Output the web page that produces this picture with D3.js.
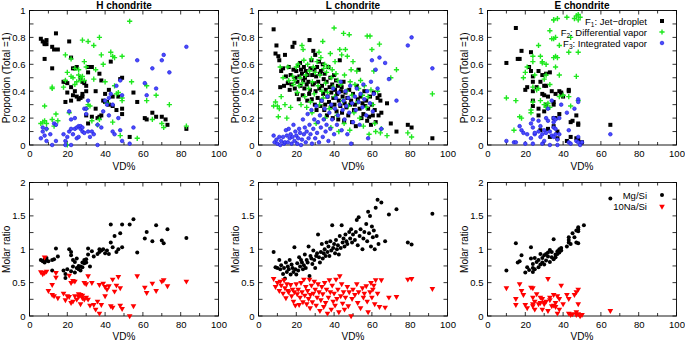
<!DOCTYPE html>
<html>
<head>
<meta charset="utf-8">
<script src="https://cdn.jsdelivr.net/npm/d3@7"></script>
<style>
  body { margin: 0; background: #fff; }
  text { font-family: "Liberation Sans", Arial, sans-serif; }
</style>
</head>
<body>
<div id="chart"></div>
<script>
// VD% versus proportions / molar ratios, three chondrite groups
var titles = ['H chondrite', 'L chondrite', 'E chondrite'];
var xTicks = [0, 20, 40, 60, 80, 100];
var topTicks = [0, 0.2, 0.4, 0.6, 0.8, 1];
var botTicks = [0, 0.5, 1, 1.5, 2];
var topLegend = ['Jet\u2212droplet', 'Differential vapor', 'Integrated vapor'];
var botLegend = ['Mg/Si', '10Na/Si'];

// H chondrite
var hF1 = [[6,0.79],[7,0.77],[8,0.75],[9,0.78],[8,0.76],[9,0.75],[8,0.64],[12,0.57],[12,0.73],[13,0.71],[14,0.83],[15,0.71],[21,0.77],[22,0.65],[23,0.57],[24,0.57],[25,0.58],[18,0.47],[19,0.47],[20,0.46],[20,0.39],[19,0.32],[22,0.43],[22,0.33],[23,0.37],[24,0.40],[25,0.36],[26,0.34],[27,0.35],[28,0.36],[28,0.38],[27,0.50],[28,0.47],[29,0.46],[30,0.44],[30,0.40],[31,0.58],[31,0.54],[30,0.22],[31,0.16],[33,0.58],[33,0.21],[35,0.40],[35,0.27],[36,0.20],[37,0.53],[38,0.48],[37,0.21],[38,0.22],[39,0.33],[40,0.32],[40,0.38],[41,0.32],[42,0.41],[42,0.30],[43,0.62],[44,0.29],[44,0.36],[46,0.26],[47,0.36],[48,0.49],[49,0.50],[49,0.27],[49,0.23],[53,0.06],[55,0.39],[57,0.32],[61,0.20],[62,0.19],[65,0.24],[67,0.21],[70,0.21],[72,0.19],[73,0.15],[83,0.12]];
var hF2 = [[6,0.16],[7,0.17],[8,0.18],[8,0.29],[9,0.16],[9,0.12],[12,0.43],[12,0.42],[12,0.19],[13,0.14],[14,0.23],[15,0.18],[18,0.43],[19,0.48],[19,0.67],[20,0.54],[20,0.00],[21,0.24],[22,0.64],[22,0.51],[23,0.50],[24,0.57],[24,0.45],[25,0.47],[26,0.56],[26,0.52],[27,0.48],[27,0.50],[28,0.78],[28,0.51],[29,0.48],[29,0.62],[30,0.58],[31,0.30],[31,0.77],[32,0.29],[33,0.18],[34,0.74],[34,0.49],[35,0.56],[37,0.80],[37,0.19],[38,0.67],[39,0.60],[40,0.47],[41,0.31],[43,0.69],[44,0.66],[45,0.65],[45,0.44],[46,0.38],[47,0.39],[48,0.07],[49,0.66],[49,0.35],[49,0.33],[53,0.92],[54,0.47],[57,0.05],[62,0.33],[62,0.44],[65,0.19],[67,0.37],[70,0.16],[71,0.13],[74,0.30],[83,0.14],[36,0.15],[44,0.17],[30,0.27]];
var hF3 = [[6,0.05],[7,0.13],[7,0.10],[8,0.07],[9,0.03],[9,0.12],[11,0.08],[12,0.00],[13,0.16],[14,0.15],[14,0.03],[18,0.08],[19,0.03],[19,0.00],[20,0.06],[21,0.25],[21,0.10],[22,0.12],[22,0.19],[22,0.00],[23,0.08],[24,0.12],[24,0.20],[25,0.13],[25,0.05],[26,0.14],[26,0.06],[27,0.14],[27,0.12],[28,0.13],[28,0.10],[29,0.09],[29,0.27],[30,0.27],[30,0.23],[31,0.33],[31,0.10],[32,0.06],[33,0.10],[34,0.08],[36,0.00],[36,0.15],[38,0.13],[39,0.25],[40,0.33],[41,0.30],[42,0.35],[42,0.22],[43,0.38],[44,0.30],[44,0.10],[45,0.08],[46,0.44],[47,0.20],[48,0.48],[48,0.11],[49,0.37],[49,0.03],[53,0.01],[55,0.13],[57,0.63],[61,0.46],[62,0.37],[65,0.57],[67,0.42],[70,0.63],[71,0.67],[74,0.54],[83,0.73]];
var hMg = [[6,0.84],[7,0.82],[8,0.80],[8,0.85],[9,0.83],[9,0.87],[10,0.82],[12,0.84],[12,0.68],[13,0.85],[14,1.01],[15,0.89],[18,0.68],[19,0.57],[19,0.63],[20,0.70],[21,1.00],[22,0.96],[22,0.91],[22,0.67],[23,0.84],[23,0.74],[24,0.81],[24,0.65],[25,0.86],[25,0.72],[26,0.75],[26,0.70],[27,0.74],[27,0.68],[28,0.80],[28,0.73],[29,0.84],[29,0.79],[30,0.85],[30,0.80],[31,1.01],[31,0.92],[32,0.74],[33,0.97],[34,0.89],[36,0.93],[37,1.00],[37,0.96],[38,0.98],[39,1.00],[40,0.94],[41,0.98],[42,0.93],[43,1.10],[43,1.37],[44,1.03],[45,1.20],[46,0.96],[47,1.00],[48,1.24],[49,1.37],[49,1.03],[53,1.37],[55,1.45],[57,0.95],[61,1.16],[62,1.26],[65,1.12],[67,1.36],[70,1.13],[71,1.09],[73,1.30],[83,1.17]];
var hNa = [[6,0.66],[7,0.63],[8,0.88],[8,0.65],[9,0.67],[10,0.38],[12,0.47],[12,0.32],[13,0.30],[14,0.65],[14,0.58],[15,0.27],[18,0.34],[19,0.24],[20,0.30],[21,0.61],[21,0.29],[22,0.50],[22,0.20],[23,0.53],[23,0.22],[24,0.52],[24,0.30],[25,0.25],[26,0.33],[26,0.29],[27,0.32],[27,0.18],[28,0.27],[28,0.31],[29,0.25],[29,0.50],[30,0.48],[30,0.28],[31,0.60],[31,0.25],[32,0.16],[33,0.50],[34,0.17],[35,0.10],[36,0.22],[37,0.47],[37,0.04],[38,0.17],[39,0.49],[40,0.44],[40,0.30],[41,0.40],[42,0.45],[43,0.15],[44,0.13],[44,0.55],[45,0.37],[46,0.46],[47,0.59],[48,0.16],[48,0.42],[49,0.11],[53,0.00],[55,0.15],[57,0.60],[61,0.43],[62,0.35],[65,0.49],[67,0.38],[70,0.52],[71,0.54],[73,0.45],[83,0.52]];

// L chondrite
var lF1 = [[8,0.86],[9,0.68],[9.5,0.74],[10.5,0.66],[11,0.63],[11.5,0.43],[12,0.55],[13,0.57],[13.5,0.44],[14,0.67],[14.5,0.51],[15.5,0.46],[16,0.58],[16.5,0.41],[17,0.52],[17.5,0.45],[18,0.73],[18.5,0.56],[19,0.76],[19.5,0.50],[19.2,0.42],[20,0.55],[20.6,0.47],[20.3,0.38],[21,0.59],[21.6,0.51],[21.3,0.34],[22,0.61],[22.5,0.56],[22.2,0.44],[23,0.53],[23.7,0.48],[23.4,0.37],[24,0.58],[24.6,0.50],[24.3,0.42],[25,0.55],[25.5,0.45],[25.8,0.33],[26,0.52],[26.4,0.47],[26.8,0.38],[27,0.78],[27.5,0.57],[27.2,0.41],[28,0.63],[28.4,0.52],[28.7,0.45],[28.2,0.34],[29,0.70],[29.6,0.56],[29.3,0.46],[29.8,0.30],[30,0.67],[30.5,0.51],[30.2,0.40],[30.7,0.26],[31,0.58],[31.6,0.47],[31.3,0.35],[32,0.62],[32.5,0.53],[32.2,0.42],[32.8,0.29],[33,0.55],[33.6,0.44],[33.3,0.33],[34,0.60],[34.5,0.49],[34.2,0.38],[34.8,0.26],[35,0.53],[35.6,0.41],[35.3,0.30],[36,0.47],[36.5,0.36],[36.2,0.22],[37,0.58],[37.6,0.43],[37.3,0.32],[38,0.50],[38.5,0.39],[38.2,0.28],[39,0.45],[39.6,0.35],[39.3,0.20],[40,0.52],[40.5,0.41],[40.2,0.30],[41,0.48],[41.6,0.38],[41.3,0.25],[42,0.44],[42.5,0.33],[42.2,0.19],[43,0.63],[43.6,0.40],[43.3,0.29],[44,0.43],[44.5,0.36],[44.2,0.24],[45,0.47],[45.6,0.31],[45.3,0.18],[46,0.39],[46.5,0.28],[47,0.35],[47.5,0.22],[48,0.41],[48.5,0.30],[49,0.33],[49.5,0.17],[50,0.38],[50.5,0.26],[51,0.30],[51.5,0.14],[52,0.44],[52.5,0.34],[53,0.56],[53.5,0.27],[54,0.36],[54.5,0.20],[55,0.31],[55.5,0.23],[56,0.40],[56.5,0.29],[57,0.33],[57.5,0.18],[58,0.27],[58.5,0.21],[59,0.36],[59.5,0.15],[60,0.30],[60.5,0.22],[61,0.39],[61.5,0.26],[62,0.17],[63,0.35],[63.5,0.22],[64,0.37],[64.5,0.33],[65,0.24],[68,0.31],[70,0.16],[73,0.10],[79,0.15],[81,0.13],[92,0.05]];
var lF2 = [[8,0.29],[9,0.32],[10,0.29],[10.5,0.21],[11,0.27],[11.5,0.58],[12,0.36],[13,0.50],[14,0.30],[15,0.20],[15.5,0.58],[16,0.48],[17,0.28],[18,0.51],[18.5,0.45],[19,0.48],[20,0.58],[20.5,0.39],[21,0.60],[21.5,0.44],[22,0.50],[22.5,0.30],[23,0.74],[23.6,0.71],[23.3,0.46],[24,0.63],[24.5,0.36],[25,0.52],[25.5,0.28],[26,0.60],[26.5,0.42],[27,0.55],[27.5,0.32],[28,0.64],[28.5,0.47],[28.3,0.24],[29,0.58],[29.5,0.38],[30,0.54],[30.5,0.16],[31,0.62],[31.5,0.44],[32,0.69],[32.5,0.52],[32.3,0.30],[33,0.65],[33.5,0.40],[34,0.77],[34.5,0.57],[34.3,0.35],[35,0.60],[35.5,0.46],[35.3,0.20],[36,0.54],[36.5,0.39],[37,0.58],[37.5,0.27],[38,0.68],[38.5,0.50],[38.3,0.13],[39,0.56],[39.5,0.43],[40,0.87],[40.5,0.62],[40.3,0.36],[41,0.53],[41.5,0.22],[42,0.48],[42.5,0.10],[43,0.71],[43.5,0.45],[44,0.67],[44.5,0.33],[45,0.83],[45.5,0.52],[45.3,0.16],[46,0.71],[46.5,0.40],[47,0.66],[47.5,0.29],[48,0.82],[48.5,0.47],[48.3,0.11],[49,0.56],[49.5,0.37],[50,0.62],[50.5,0.24],[51,0.45],[52,0.55],[52.5,0.32],[53,0.42],[53.5,0.20],[54,0.48],[55,0.37],[55.5,0.14],[56,0.44],[57,0.28],[57.5,0.81],[58,0.36],[58.5,0.08],[59,0.81],[59.5,0.41],[60,0.71],[60.5,0.30],[61,0.55],[61.5,0.16],[62,0.10],[63,0.40],[64,0.75],[64.5,0.09],[65,0.12],[68,0.07],[70,0.50],[73,0.56],[79,0.09],[81,0.06],[92,0.38]];
var lF3 = [[8,0.07],[8.5,0.02],[9.5,0.04],[10,0.01],[11,0.06],[11.5,0.00],[12,0.03],[13,0.06],[13.5,0.01],[14,0.02],[14.5,0.11],[15,0.07],[15.5,0.02],[16,0.12],[16.5,0.05],[17.5,0.01],[17,0.08],[18,0.06],[18.5,0.15],[19,0.03],[19.5,0.10],[20,0.07],[20.5,0.01],[21,0.05],[21.5,0.12],[22,0.09],[22.5,0.00],[23,0.04],[23.5,0.19],[24,0.08],[24.5,0.13],[25,0.02],[25.5,0.10],[26,0.23],[26.5,0.05],[27,0.15],[27.5,0.08],[28,0.26],[28.3,0.01],[29,0.12],[29.5,0.19],[30,0.05],[30.5,0.29],[31,0.09],[31.5,0.17],[32,0.02],[32.5,0.22],[33,0.13],[33.5,0.33],[34,0.06],[34.5,0.19],[35,0.27],[35.5,0.10],[36,0.15],[36.5,0.36],[37,0.03],[37.5,0.24],[38,0.12],[38.5,0.30],[39,0.19],[39.5,0.42],[40,0.08],[40.5,0.27],[41,0.35],[41.5,0.15],[42,0.22],[42.5,0.39],[43,0.30],[43.5,0.47],[44,0.11],[44.5,0.26],[45,0.33],[45.5,0.19],[46,0.40],[46.5,0.29],[47,0.08],[47.5,0.35],[48,0.24],[48.5,0.44],[49,0.01],[49.5,0.31],[50,0.17],[51,0.36],[51.5,0.26],[52,0.42],[53,0.32],[53.5,0.15],[54,0.38],[55,0.28],[55.5,0.45],[56,0.34],[57,0.22],[57.5,0.40],[58,0.05],[59,0.31],[59.5,0.47],[60,0.63],[60.5,0.25],[61,0.38],[62,0.56],[63,0.42],[64,0.65],[65,0.12],[67,0.61],[69,0.49],[73,0.33],[79,0.74],[81,0.80],[92,0.57]];
var lMg = [[8,0.96],[9,0.73],[10,0.72],[11,0.84],[11.5,0.70],[12,0.76],[13,0.63],[13.5,0.72],[14,0.56],[14.5,0.80],[15,0.66],[15.5,0.74],[16,0.70],[16.5,0.84],[17,0.62],[17.5,0.77],[18,0.72],[18.5,0.66],[19,1.03],[19.5,0.70],[20,0.62],[20.5,0.79],[21,0.68],[21.5,0.88],[22,0.74],[22.5,0.84],[23,0.80],[23.5,0.70],[24,0.76],[24.5,0.92],[25,0.72],[25.5,0.84],[26,0.80],[26.5,1.04],[27,0.60],[27.5,0.90],[28,0.86],[28.5,0.78],[29,0.98],[29.5,0.84],[30,0.72],[30.5,0.90],[31,0.94],[31.5,1.22],[32,0.88],[32.5,0.80],[33,0.96],[33.5,1.08],[34,0.86],[34.5,0.94],[35,1.00],[35.5,0.90],[36,1.10],[36.5,0.96],[37,1.04],[37.5,0.90],[38,1.12],[38.5,0.98],[39,1.36],[39.5,1.02],[40,1.08],[40.5,0.94],[41,1.14],[41.5,1.00],[42,1.06],[42.5,0.92],[43,1.20],[43.5,1.02],[44,1.36],[44.5,1.10],[45,1.16],[45.5,1.04],[46,1.22],[46.5,1.12],[47,1.08],[48,1.26],[48.5,1.16],[49,1.30],[49.5,1.10],[50,1.22],[51,1.14],[51.5,1.26],[52,1.44],[52.5,1.06],[53,1.48],[53.5,1.20],[54,1.30],[55,1.00],[55.5,1.16],[56,1.26],[57,1.38],[57.5,1.12],[58,1.56],[58.5,1.24],[59,1.50],[59.5,1.04],[60,1.34],[60.5,1.18],[61,1.28],[61.5,1.00],[62,1.62],[62.5,1.20],[63,1.74],[63.5,1.08],[65,1.70],[67,1.12],[69,1.52],[73,1.60],[79,1.10],[81,1.07],[92,1.53]];
var lNa = [[8,0.56],[9,0.44],[10,0.50],[11,0.38],[11.5,0.52],[12,0.46],[13,0.34],[13.5,0.54],[14,0.42],[14.5,0.27],[15,0.48],[15.5,0.38],[16,0.36],[17,0.47],[17.5,0.30],[18,0.40],[18.5,0.22],[19,0.36],[19.5,0.16],[20,0.48],[20.5,0.33],[21,0.40],[21.5,0.17],[22,0.28],[22.5,0.50],[23,0.36],[23.5,0.21],[24,0.55],[24.5,0.31],[25,0.44],[25.5,0.18],[26,0.38],[26.5,0.26],[27,0.55],[27.5,0.32],[27.3,0.12],[28,0.46],[28.5,0.21],[29,0.34],[29.5,0.52],[30,0.40],[30.5,0.16],[31,0.28],[31.5,0.48],[32,0.36],[32.5,0.08],[33,0.24],[33.5,0.44],[34,0.33],[34.5,0.14],[35,0.50],[35.5,0.20],[36,0.40],[36.5,0.04],[37,0.28],[37.5,0.54],[38,0.36],[38.5,0.10],[39,0.46],[39.5,0.22],[40,0.34],[40.5,0.16],[41,0.55],[41.5,0.26],[42,0.40],[42.5,0.06],[43,0.60],[43.5,0.30],[44,0.48],[44.5,0.19],[45,0.36],[45.5,0.10],[46,0.28],[47,0.44],[47.5,0.15],[48,0.36],[49,0.00],[49.5,0.26],[50,0.40],[51,0.32],[52,0.48],[52.5,0.20],[53,0.36],[54,0.12],[55,0.42],[55.5,0.28],[56,0.34],[57,0.45],[57.5,0.22],[58,0.06],[59,0.36],[59.5,0.50],[60,0.28],[60.5,0.40],[61,0.46],[61.5,0.18],[62,0.54],[63,0.34],[64,0.14],[65,0.54],[67,0.13],[69,0.28],[73,0.29],[79,0.55],[81,0.56],[92,0.41]];

// E chondrite
var eF1 = [[10,0.61],[15,0.87],[16,0.64],[17,0.64],[18,0.70],[20,0.41],[21,0.43],[22,0.58],[23,0.69],[23,0.55],[24,0.51],[24,0.47],[24,0.33],[24,0.29],[24,0.40],[26,0.43],[27,0.55],[27,0.27],[27,0.22],[28,0.47],[28,0.11],[29,0.52],[29,0.38],[30,0.37],[30,0.44],[30,0.25],[31,0.53],[31,0.44],[31,0.30],[32,0.36],[32,0.12],[33,0.54],[33,0.06],[34,0.40],[35,0.32],[35,0.30],[35,0.20],[35,0.14],[36,0.38],[36,0.20],[37,0.10],[37,0.05],[38,0.40],[38,0.23],[39,0.38],[39,0.39],[40,0.36],[42,0.03],[43,0.41],[43,0.40],[44,0.17],[44,0.06],[45,0.18],[47,0.22],[47,0.05],[48,0.16],[48,0.15],[48,0.04],[50,0.02],[65,0.15]];
var eF2 = [[10,0.35],[14,0.11],[15,0.33],[17,0.21],[18,0.20],[19,0.50],[20,0.54],[21,0.58],[23,0.24],[23,0.26],[24,0.66],[24,0.62],[24,0.43],[24,0.32],[25,0.52],[26,0.41],[27,0.74],[27,0.42],[28,0.66],[28,0.33],[29,0.62],[29,0.61],[30,0.49],[30,0.30],[31,0.60],[31,0.52],[31,0.28],[32,0.31],[33,0.85],[33,0.45],[33,0.28],[34,0.79],[35,0.79],[35,0.93],[35,0.65],[36,0.80],[36,0.66],[36,0.58],[37,0.65],[37,0.94],[38,0.74],[38,0.52],[38,0.36],[40,0.37],[42,0.95],[43,0.36],[43,0.69],[44,0.80],[46,0.94],[47,0.51],[47,0.96],[48,0.97],[48,0.93],[48,0.69],[48,0.33],[49,0.95],[44,0.29],[35,0.93]];
var eF3 = [[10,0.03],[14,0.02],[15,0.02],[17,0.14],[18,0.11],[19,0.09],[20,0.01],[21,0.08],[23,0.16],[23,0.05],[24,0.01],[24,0.19],[24,0.13],[25,0.08],[25,0.09],[27,0.18],[27,0.10],[28,0.06],[28,0.14],[29,0.01],[29,0.08],[30,0.11],[30,0.03],[31,0.09],[31,0.20],[32,0.18],[32,0.27],[33,0.10],[33,0.00],[34,0.33],[34,0.07],[35,0.13],[35,0.17],[35,0.20],[35,0.06],[36,0.08],[36,0.12],[36,0.19],[37,0.00],[37,0.04],[38,0.20],[38,0.08],[39,0.30],[42,0.24],[43,0.02],[43,0.11],[44,0.01],[46,0.27],[47,0.03],[48,0.34],[48,0.32],[48,0.02],[48,0.06],[49,0.00],[50,0.02],[65,0.08]];
var eMg = [[10,0.68],[15,1.09],[16,0.80],[17,0.82],[18,0.91],[20,0.65],[21,0.73],[22,0.69],[23,0.86],[23,1.03],[24,0.78],[24,0.72],[24,0.66],[25,0.87],[25,0.70],[26,0.81],[27,0.84],[27,0.73],[28,0.93],[28,0.77],[29,0.87],[29,0.80],[30,0.77],[30,0.91],[31,0.83],[31,0.93],[32,0.89],[32,0.95],[33,0.99],[33,0.81],[34,0.96],[34,0.88],[35,1.15],[35,0.85],[36,0.92],[36,0.88],[37,0.97],[37,0.93],[38,1.00],[38,0.95],[39,1.02],[39,0.98],[42,1.04],[43,1.18],[43,1.10],[43,1.14],[44,1.08],[45,1.24],[46,1.18],[47,1.28],[47,1.10],[48,1.33],[48,1.27],[48,1.30],[48,1.09],[51,1.36],[65,1.76]];
var eNa = [[10,0.42],[15,0.17],[15,0.26],[17,0.48],[18,0.38],[19,0.32],[20,0.17],[21,0.12],[23,0.43],[24,0.42],[24,0.28],[24,0.18],[24,0.15],[25,0.22],[25,0.10],[26,0.33],[27,0.18],[28,0.28],[28,0.20],[29,0.26],[29,0.10],[30,0.18],[30,0.20],[31,0.22],[32,0.56],[32,0.08],[33,0.28],[33,0.24],[34,0.15],[35,0.32],[35,0.16],[36,0.14],[36,0.20],[37,0.30],[37,0.04],[38,0.26],[38,0.10],[39,0.46],[40,0.18],[42,0.32],[43,0.26],[43,0.04],[44,0.02],[45,0.03],[46,0.32],[47,0.36],[47,0.02],[47,0.06],[48,0.40],[48,0.18],[48,0.03],[49,0.00],[50,0.02],[65,0.08]];

var topSeries = [[hF1, hF2, hF3], [lF1, lF2, lF3], [eF1, eF2, eF3]];
var botSeries = [[hMg, hNa], [lMg, lNa], [eMg, eNa]];

var W = 685, H = 342;
var lefts = [29.5, 258.5, 487.5];
var pw = 189;
var rows = [{top: 10.5, h: 134.5}, {top: 182.5, h: 133.5}];

var svg = d3.select('#chart').append('svg')
    .attr('width', W)
    .attr('height', H);

// marker drawers
function square(g, pts, x, y) {
  g.selectAll('rect.sq').data(pts).enter().append('rect')
      .attr('x', function(d) { return x(d[0]) - 2; })
      .attr('y', function(d) { return y(d[1]) - 2; })
      .attr('width', 4).attr('height', 4)
      .attr('fill', '#000');
}
function plus(g, pts, x, y) {
  g.selectAll('path.pl').data(pts).enter().append('path')
      .attr('d', function(d) {
        var cx = x(d[0]), cy = y(d[1]), r = 2.6;
        return 'M' + (cx - r) + ',' + cy + 'H' + (cx + r) + 'M' + cx + ',' + (cy - r) + 'V' + (cy + r);
      })
      .attr('stroke', '#1ee81e')
      .attr('stroke-width', 1.4)
      .attr('fill', 'none');
}
function circleBlue(g, pts, x, y) {
  g.selectAll('circle.bl').data(pts).enter().append('circle')
      .attr('cx', function(d) { return x(d[0]); })
      .attr('cy', function(d) { return y(d[1]); })
      .attr('r', 1.8)
      .attr('fill', '#4a4aff')
      .attr('stroke', '#2020dd')
      .attr('stroke-width', 0.7);
}
function dotBlack(g, pts, x, y) {
  g.selectAll('circle.bk').data(pts).enter().append('circle')
      .attr('cx', function(d) { return x(d[0]); })
      .attr('cy', function(d) { return y(d[1]); })
      .attr('r', 2)
      .attr('fill', '#000');
}
var tri = d3.symbol().type(d3.symbolTriangle).size(14);
function triRed(g, pts, x, y) {
  g.selectAll('path.tr').data(pts).enter().append('path')
      .attr('d', tri)
      .attr('transform', function(d) { return 'translate(' + x(d[0]) + ',' + y(d[1]) + ') rotate(180)'; })
      .attr('fill', '#ff0000');
}

function drawPanel(col, row) {
  var r = rows[row];
  var x = d3.scaleLinear().domain([0, 100]).range([lefts[col], lefts[col] + pw]);
  var yMax = row == 0 ? 1 : 2;
  var y = d3.scaleLinear().domain([0, yMax]).range([r.top + r.h, r.top]);
  var g = svg.append('g');

  var minorX = d3.range(0, 101, 10);
  var minorY = row == 0 ? d3.range(0, 1.01, 0.1) : d3.range(0, 2.01, 0.25);

  // axes with inward ticks, gnuplot style
  var axB = g.append('g').attr('transform', 'translate(0,' + (r.top + r.h) + ')')
      .call(d3.axisBottom(x).tickValues(xTicks).tickSize(0).tickPadding(5));
  var axL = g.append('g').attr('transform', 'translate(' + lefts[col] + ',0)')
      .call(d3.axisLeft(y).tickValues(row == 0 ? topTicks : botTicks).tickSize(0).tickPadding(4)
        .tickFormat(function(d) { return d; }));
  [axB, axL].forEach(function(a) {
    a.select('.domain').remove();
    a.selectAll('text').attr('font-size', 9.5).attr('fill', '#000')
      .style('font-family', '"Liberation Sans", Arial, sans-serif');
  });

  var tk = g.append('g').attr('stroke', '#000').attr('stroke-width', 0.8);
  minorX.forEach(function(v) {
    var len = (v % 20 == 0) ? 4 : 3;
    tk.append('line').attr('x1', x(v)).attr('x2', x(v)).attr('y1', r.top + r.h).attr('y2', r.top + r.h - len);
    tk.append('line').attr('x1', x(v)).attr('x2', x(v)).attr('y1', r.top).attr('y2', r.top + len);
  });
  minorY.forEach(function(v) {
    tk.append('line').attr('y1', y(v)).attr('y2', y(v)).attr('x1', lefts[col]).attr('x2', lefts[col] + 4);
    tk.append('line').attr('y1', y(v)).attr('y2', y(v)).attr('x1', lefts[col] + pw).attr('x2', lefts[col] + pw - 4);
  });

  g.append('rect')
      .attr('x', lefts[col]).attr('y', r.top)
      .attr('width', pw).attr('height', r.h)
      .attr('fill', 'none').attr('stroke', '#000').attr('stroke-width', 0.9);

  // labels
  g.append('text')
      .attr('x', lefts[col] + pw / 2)
      .attr('y', row == 0 ? 169.5 : 339.5)
      .attr('text-anchor', 'middle')
      .attr('font-size', 10)
      .text('VD%');
  g.append('text')
      .attr('transform', 'translate(' + (lefts[col] - 19.5) + ',' + (r.top + r.h / 2) + ') rotate(-90)')
      .attr('text-anchor', 'middle')
      .attr('font-size', 10)
      .text(row == 0 ? 'Proportion (Total =1)' : 'Molar ratio');
  if (row == 0) {
    g.append('text')
        .attr('x', lefts[col] + pw / 2)
        .attr('y', 9)
        .attr('text-anchor', 'middle')
        .attr('font-size', 10)
        .attr('font-weight', 'bold')
        .text(titles[col]);
  }

  var pg = g.append('g');
  var s;
  if (row == 0) {
    s = topSeries[col];
    square(pg.append('g'), s[0], x, y);
    plus(pg.append('g'), s[1], x, y);
    circleBlue(pg.append('g'), s[2], x, y);
  } else {
    s = botSeries[col];
    dotBlack(pg.append('g'), s[0], x, y);
    triRed(pg.append('g'), s[1], x, y);
  }
}

for (var row = 0; row < 2; row++) {
  for (var col = 0; col < 3; col++) {
    drawPanel(col, row);
  }
}

// legends in the E panels
var lx = 647, mx = 662;
var ly = [21, 32, 43];
var legTop = svg.append('g').attr('font-size', 9.5).attr('text-anchor', 'end');
topLegend.forEach(function(name, i) {
  var t = legTop.append('text').attr('x', lx).attr('y', ly[i] + 3.5);
  t.append('tspan').text('F');
  t.append('tspan').attr('font-size', 6.5).attr('dy', 2).text(i + 1);
  t.append('tspan').attr('dy', -2).text(': ' + name);
});
var markY = function(v) { return v; };
var markX = function() { return mx; };
square(legTop.append('g'), [[0, ly[0]]], markX, markY);
plus(legTop.append('g'), [[0, ly[1]]], markX, markY);
circleBlue(legTop.append('g'), [[0, ly[2]]], markX, markY);

var lyb = [195, 206.5];
var legBot = svg.append('g').attr('font-size', 9.5).attr('text-anchor', 'end');
botLegend.forEach(function(name, i) {
  legBot.append('text').attr('x', lx).attr('y', lyb[i] + 3.5).text(name);
});
dotBlack(legBot.append('g'), [[0, lyb[0]]], markX, markY);
triRed(legBot.append('g'), [[0, lyb[1]]], markX, markY);
</script>
</body>
</html>
